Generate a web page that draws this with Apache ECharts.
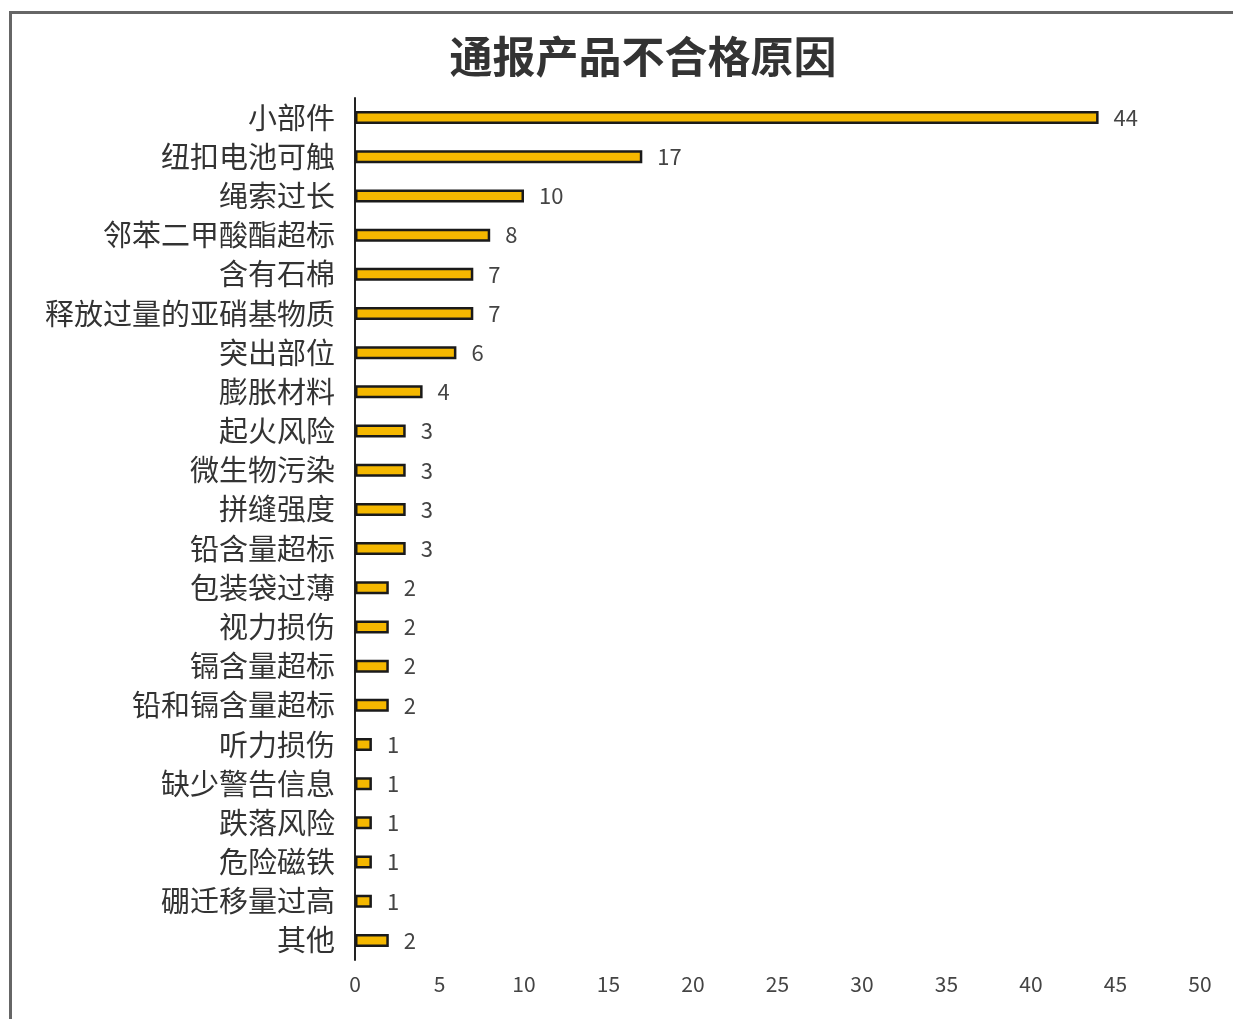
<!DOCTYPE html>
<html><head><meta charset="utf-8">
<script src="https://cdn.jsdelivr.net/npm/echarts@6/dist/echarts.min.js"></script>
<style>
html,body{margin:0;padding:0;background:#fff;}
#frame{position:absolute;left:9px;top:11px;width:1240px;height:1020px;border:3px solid #666;box-sizing:border-box;}
#c{position:absolute;left:0;top:0;width:1233px;height:1019px;}
</style></head><body>
<div id="frame"></div>
<div id="c"></div>
<script>
const categories = ["小部件","纽扣电池可触","绳索过长","邻苯二甲酸酯超标","含有石棉","释放过量的亚硝基物质","突出部位","膨胀材料","起火风险","微生物污染","拼缝强度","铅含量超标","包装袋过薄","视力损伤","镉含量超标","铅和镉含量超标","听力损伤","缺少警告信息","跌落风险","危险磁铁","硼迁移量过高","其他"];
const values = [44,17,10,8,7,7,6,4,3,3,3,3,2,2,2,2,1,1,1,1,1,2];
const xTicks = {min:0,max:50,interval:5};
const chart = echarts.init(document.getElementById('c'));
const font = '"Noto Sans CJK SC","Noto Sans",sans-serif';
chart.setOption({
  backgroundColor:'transparent',
  animation:false,
  title:{text:'通报产品不合格原因',left:638,top:30,textAlign:'center',
    textStyle:{fontFamily:font,fontSize:43,fontWeight:'bold',color:'#333'}},
  grid:{left:355,right:33,top:98,bottom:59},
  xAxis:{type:'value',min:xTicks.min,max:xTicks.max,interval:xTicks.interval,
    axisLine:{show:false},axisTick:{show:false},splitLine:{show:false},
    axisLabel:{fontFamily:font,fontSize:21,color:'#444',margin:14}},
  yAxis:{type:'category',data:categories,inverse:true,
    axisLine:{show:true,lineStyle:{color:'#222',width:2}},axisTick:{show:false},
    axisLabel:{fontFamily:font,fontSize:29,color:'#333',margin:20}},
  series:[{type:'bar',data:values,barWidth:13,
    itemStyle:{color:'#F5B800',borderColor:'#1a1a1a',borderWidth:2.5},
    label:{show:true,position:'right',distance:15,fontFamily:font,fontSize:22,color:'#444'}}]
});
</script></body></html>
